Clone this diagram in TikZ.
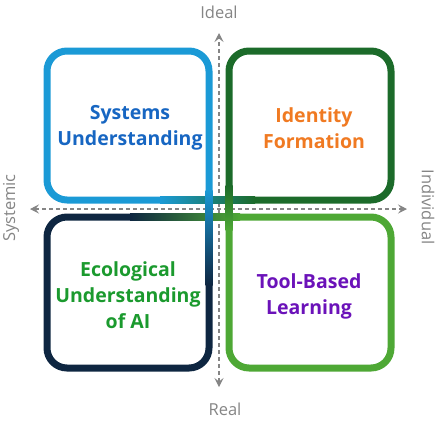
\documentclass[tikz,border=0pt]{standalone}
\usepackage{fontspec}
\setmainfont{Open Sans}
\usepackage{xcolor}
\definecolor{quadblue}{HTML}{1B9AD6}
\definecolor{quaddkgreen}{HTML}{1C6B2A}
\definecolor{quadnavy}{HTML}{0E2641}
\definecolor{quadltgreen}{HTML}{4EA835}
\definecolor{sysblue}{HTML}{1766C2}
\definecolor{idorange}{HTML}{F07A22}
\definecolor{ecogreen}{HTML}{1B9A2E}
\definecolor{toolpurple}{HTML}{6B12B9}
\definecolor{axisgray}{HTML}{858585}
\usepackage{tikz}
\usetikzlibrary{arrows.meta, positioning}

\begin{document}
\begin{tikzpicture}[x=1pt, y=-1pt,
  frame/.style={line width=7pt, rounded corners=20pt},
  quadtext/.style={align=center, font=\fontsize{19.5}{26}\selectfont\bfseries},
  axislabel/.style={text=axisgray, font=\fontsize{16.5}{20}\selectfont},
  axis/.style={draw=axisgray, line width=1.1pt, dash pattern=on 4pt off 3pt,
    {Stealth[length=9pt, width=9pt, inset=3.5pt]}-{Stealth[length=9pt, width=9pt, inset=3.5pt]}}
]
\useasboundingbox (0,0) rectangle (442,424);

% Axis labels
\node[axislabel] (ideal) at (219,12) {Ideal};
\node[axislabel] (real) at (225,409) {Real};
\node[axislabel, rotate=90] (systemic) at (11,208) {Systemic};
\node[axislabel, rotate=-90] (individual) at (428,207) {Individual};

% Axes
\coordinate (vtop) at (219,33);
\coordinate (vbot) at (219,387);
\coordinate (hleft) at (30,209);
\coordinate (hright) at (407,209);
\draw[axis] (vbot) -- (vtop);
\draw[axis] (hleft) -- (hright);

% Quadrant frames
\draw[frame, draw=quadblue] (209,200) -- (47,200) -- (47,51) -- (209,51) -- (209,200);
\draw[frame, draw=quaddkgreen] (229,200) -- (391,200) -- (391,51) -- (229,51) -- (229,200);
\draw[frame, draw=quadnavy] (209,217) -- (47,217) -- (47,368) -- (209,368) -- (209,217);
\draw[frame, draw=quadltgreen] (229,217) -- (391,217) -- (391,368) -- (229,368) -- (229,217);

% Blended crossing bars
\shade[left color=quadblue, right color=quaddkgreen] (160,196.5) rectangle (255,203.5);
\shade[left color=quadnavy, right color=quadltgreen] (130,213.5) rectangle (240,220.5);
\shade[top color=quadblue, bottom color=quadnavy] (205.5,190) rectangle (212.5,285);
\shade[top color=quaddkgreen, bottom color=quadltgreen] (225.5,185) rectangle (232.5,230);

% Quadrant texts
\node[quadtext, text=sysblue] (systems) at (130,128) {Systems\\Understanding};
\node[quadtext, text=idorange] (identity) at (314,128) {Identity\\Formation};
\node[quadtext, text=ecogreen] (ecological) at (128,295) {Ecological\\Understanding\\of AI};
\node[quadtext, text=toolpurple] (tool) at (309,296) {Tool-Based\\Learning};
\end{tikzpicture}
\end{document}
